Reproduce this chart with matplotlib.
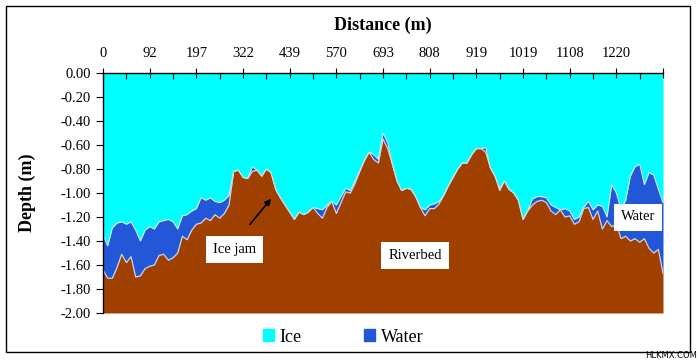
import matplotlib
matplotlib.use('Agg')
import matplotlib.pyplot as plt
from matplotlib.patches import Patch, Rectangle

plt.rcParams['font.family'] = ['Liberation Serif', 'DejaVu Serif']

# distance labels shown on the top axis (every 10th sample)
dist_labels = ['0', '92', '197', '322', '439', '570', '693', '808', '919', '1019', '1108', '1220']

# bottom of the ice cover (m)
ice_bottom = [-1.35, -1.44, -1.29, -1.25, -1.24, -1.26, -1.24, -1.31, -1.40, -1.31,
              -1.28, -1.30, -1.24, -1.23, -1.22, -1.24, -1.30, -1.19, -1.18, -1.15,
              -1.13, -1.04, -1.06, -1.04, -1.07, -1.08, -1.06, -1.02, -0.82, -0.81,
              -0.87, -0.88, -0.78, -0.81, -0.86, -0.80, -0.83, -0.97, -1.04, -1.10,
              -1.16, -1.22, -1.16, -1.18, -1.16, -1.12, -1.13, -1.14, -1.10, -1.07,
              -1.10, -1.03, -0.96, -0.98, -0.90, -0.82, -0.73, -0.66, -0.68, -0.72,
              -0.50, -0.58, -0.76, -0.90, -0.98, -0.96, -0.97, -1.03, -1.12, -1.14,
              -1.10, -1.09, -1.07, -1.02, -0.94, -0.87, -0.80, -0.75, -0.75, -0.68,
              -0.63, -0.63, -0.62, -0.79, -0.86, -0.96, -0.90, -0.97, -1.00, -1.06,
              -1.22, -1.15, -1.05, -1.03, -1.03, -1.04, -1.10, -1.12, -1.14, -1.13,
              -1.15, -1.22, -1.20, -1.12, -1.07, -1.14, -1.10, -1.11, -1.20, -0.93,
              -1.00, -1.14, -1.06, -0.86, -0.78, -0.76, -0.93, -0.83, -0.85, -0.97,
              -1.08]

# riverbed elevation (m)
riverbed = [-1.64, -1.71, -1.71, -1.62, -1.51, -1.58, -1.53, -1.70, -1.69, -1.63,
            -1.61, -1.60, -1.52, -1.51, -1.56, -1.54, -1.50, -1.36, -1.39, -1.31,
            -1.26, -1.25, -1.21, -1.23, -1.18, -1.21, -1.17, -1.10, -0.82, -0.81,
            -0.87, -0.88, -0.82, -0.81, -0.86, -0.80, -0.83, -0.97, -1.04, -1.10,
            -1.16, -1.22, -1.16, -1.18, -1.16, -1.12, -1.17, -1.21, -1.12, -1.07,
            -1.17, -1.08, -0.99, -1.00, -0.92, -0.82, -0.73, -0.66, -0.72, -0.75,
            -0.55, -0.63, -0.76, -0.90, -0.98, -0.96, -0.97, -1.03, -1.12, -1.19,
            -1.13, -1.13, -1.09, -1.02, -0.94, -0.87, -0.80, -0.75, -0.75, -0.68,
            -0.63, -0.63, -0.66, -0.79, -0.86, -0.98, -0.90, -0.97, -1.00, -1.06,
            -1.22, -1.15, -1.10, -1.07, -1.06, -1.08, -1.15, -1.18, -1.14, -1.20,
            -1.19, -1.26, -1.24, -1.13, -1.12, -1.22, -1.15, -1.30, -1.23, -1.28,
            -1.26, -1.38, -1.36, -1.40, -1.38, -1.41, -1.38, -1.46, -1.50, -1.47,
            -1.67]

x = list(range(len(ice_bottom)))

ice_col = '#00FFFF'
water_col = '#2258D8'
bed_col = '#A04000'

fig = plt.figure(figsize=(7, 3.61), dpi=100)
ax = fig.add_axes([103/700, 1-313/361, 560/700, 240/361])

ax.fill_between(x, 0, ice_bottom, color=ice_col, lw=0)
ax.fill_between(x, ice_bottom, riverbed, color=water_col, lw=0)
ax.fill_between(x, riverbed, -2, color=bed_col, lw=0)
ax.plot(x, ice_bottom, color='#E8E8F0', lw=0.7)
ax.plot(x, riverbed, color='#D8D8E0', lw=0.8)

ax.set_xlim(0, len(x) - 1)
ax.set_ylim(-2, 0)

ax.xaxis.tick_top()
ax.xaxis.set_label_position('top')
ax.set_xticks(range(0, 121, 10))
ax.set_xticklabels(dist_labels + [''], fontsize=10.5)
ax.set_xticks(range(5, 121, 10), minor=True)
ax.tick_params(axis='x', which='major', direction='inout', length=7, width=0.8, pad=6)
ax.tick_params(axis='x', which='minor', direction='in', length=4, width=0.8)
ax.set_xlabel('Distance (m)', fontsize=13, fontweight='bold', labelpad=12)

yt = [0, -0.2, -0.4, -0.6, -0.8, -1.0, -1.2, -1.4, -1.6, -1.8, -2.0]
ax.set_yticks(yt)
ax.set_yticklabels(['%.2f' % v for v in yt], fontsize=10.5)
ax.tick_params(axis='y', direction='out', length=5, width=0.8)
ax.set_ylabel('Depth (m)', fontsize=13, fontweight='bold', labelpad=18)

for s in ['right', 'bottom']:
    ax.spines[s].set_visible(False)
ax.spines['top'].set_linewidth(1.0)
ax.spines['left'].set_linewidth(1.0)

box = dict(facecolor='white', edgecolor='none', pad=5)
ax.text(28.1, -1.47, 'Ice jam', fontsize=10.5, ha='center', va='center', bbox=box)
ax.annotate('', xy=(36.4, -1.03), xytext=(31.1, -1.28),
            arrowprops=dict(arrowstyle='-|>', color='black', lw=1.2, mutation_scale=9))
ax.text(66.9, -1.52, 'Riverbed', fontsize=10.5, ha='center', va='center', bbox=box)
ax.text(114.6, -1.20, 'Water', fontsize=10.5, ha='center', va='center', bbox=box)

handles = [Patch(color=ice_col, label='Ice'), Patch(color=water_col, label='Water')]
fig.legend(handles=handles, loc='center', bbox_to_anchor=(343/700, 1-337/361), ncol=2,
           frameon=False, fontsize=13, handlelength=0.6, handleheight=0.6,
           handletextpad=0.3, columnspacing=3.5)

fig.patches.append(Rectangle((6/700, 1-352/361), 684/700, 346/361, transform=fig.transFigure,
                             fill=False, edgecolor='black', lw=1.0))
fig.text(697/700, 1-356/361, 'HLKMX.COM', fontsize=6, ha='right', va='center',
         family='DejaVu Sans')

fig.savefig('out.png', dpi=100)
